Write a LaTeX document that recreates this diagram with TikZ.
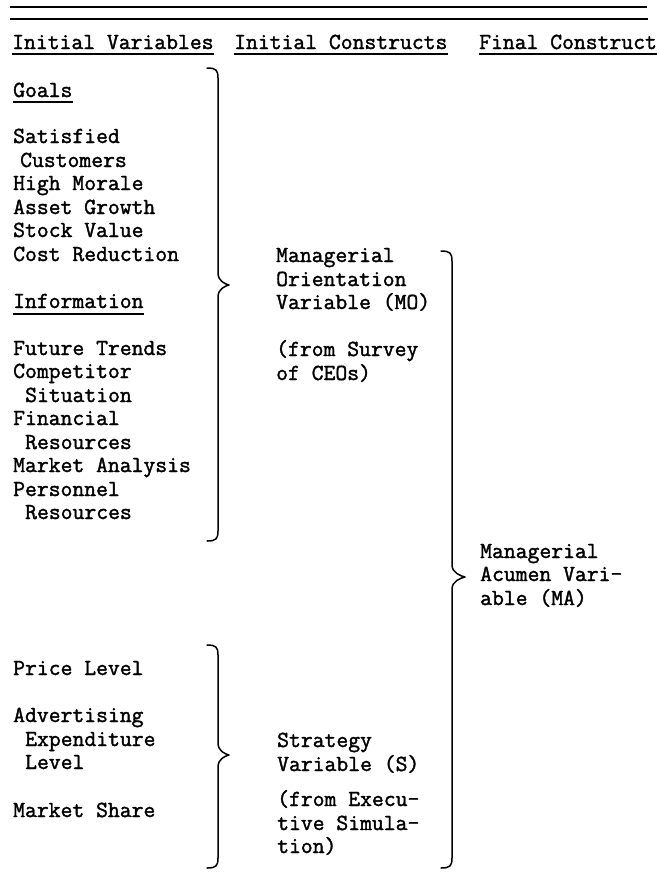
\documentclass[tikz,border=0pt]{standalone}
\usepackage{fontspec}
\newfontfamily\tw{Latin Modern Mono}[FakeBold=1.6]
\newcommand\mybrace[6]{% h, v, p, ytop, ymid, ybot
  \draw[brc] (#1,#4) .. controls (#2-2,#4) and (#2,#4+2) .. (#2,#4+10)
    -- (#2,#5-12) .. controls (#2,#5-4) and (#3-4,#5-1) .. (#3,#5)
    .. controls (#3-4,#5+1) and (#2,#5+4) .. (#2,#5+12)
    -- (#2,#6-10) .. controls (#2,#6-2) and (#2-2,#6) .. (#1,#6);}
\begin{document}
\begin{tikzpicture}[x=1pt,y=-1pt,
  txt/.style={anchor=base west, inner sep=0pt, font=\fontsize{23}{23.5}\selectfont\tw},
  ul/.style={line width=1.3pt},
  rulea/.style={line width=1.5pt},
  ruleb/.style={line width=1.1pt},
  brc/.style={line width=1.5pt, line cap=round, line join=round}]
\useasboundingbox (0,0) rectangle (659,876);
% top rules
\coordinate (r1a) at (10,7);  \coordinate (r1b) at (647,7);
\coordinate (r2a) at (10,19); \coordinate (r2b) at (648,19);
\draw[rulea] (r1a) -- (r1b);
\draw[ruleb] (r2a) -- (r2b);
% headers
\node[txt] (h1) at (12,49)  {Initial Variables};
\node[txt] (h2) at (234,49) {Initial Constructs};
\node[txt] (h3) at (479,49) {Final Construct};
\foreach \h in {h1,h2,h3}
  \draw[ul] ([yshift=-5pt]\h.base west) -- ([yshift=-5pt]\h.base east);
% left column: goals
\node[txt] (goals) at (13,97) {Goals};
\draw[ul] ([yshift=-5pt]goals.base west) -- ([yshift=-5pt]goals.base east);
\node[txt] (g1) at (13,143) {Satisfied};
\node[txt] (g1b) at (20,167) {Customers};
\node[txt] (g2) at (13,190) {High Morale};
\node[txt] (g3) at (13,214) {Asset Growth};
\node[txt] (g4) at (13,237) {Stock Value};
\node[txt] (g5) at (13,261) {Cost Reduction};
\node[txt] (info) at (13,308) {Information};
\draw[ul] ([yshift=-6pt]info.base west) -- ([yshift=-6pt]info.base east);
\node[txt] (i1) at (13,355) {Future Trends};
\node[txt] (i2) at (13,378) {Competitor};
\node[txt] (i2b) at (25,402) {Situation};
\node[txt] (i3) at (13,425) {Financial};
\node[txt] (i3b) at (25,449) {Resources};
\node[txt] (i4) at (13,472) {Market Analysis};
\node[txt] (i5) at (13,496) {Personnel};
\node[txt] (i5b) at (25,519) {Resources};
% left column: strategy items
\node[txt] (s1) at (13,675) {Price Level};
\node[txt] (s2) at (13,722) {Advertising};
\node[txt] (s2b) at (25,746) {Expenditure};
\node[txt] (s2c) at (25,769) {Level};
\node[txt] (s3) at (13,817) {Market Share};
% middle column
\node[txt] (mo1) at (276,262) {Managerial};
\node[txt] (mo2) at (276,286) {Orientation};
\node[txt] (mo3) at (276,309) {Variable (MO)};
\node[txt] (mo4) at (276,356) {(from Survey};
\node[txt] (mo5) at (276,380) {of CEOs)};
\node[txt] (st1) at (277,747) {Strategy};
\node[txt] (st2) at (277,771) {Variable (S)};
\node[txt] (st3) at (277,806) {(from Execu-};
\node[txt] (st4) at (277,830) {tive Simula-};
\node[txt] (st5) at (277,853) {tion)};
% right column
\node[txt] (ma1) at (480,558) {Managerial};
\node[txt] (ma2) at (480,581) {Acumen Vari-};
\node[txt] (ma3) at (480,605) {able (MA)};
% braces
\mybrace{207}{218}{229}{68}{285}{541}
\mybrace{207}{218}{229}{645}{755}{868}
\mybrace{441}{452}{465}{251}{577}{868}
\end{tikzpicture}
\end{document}
